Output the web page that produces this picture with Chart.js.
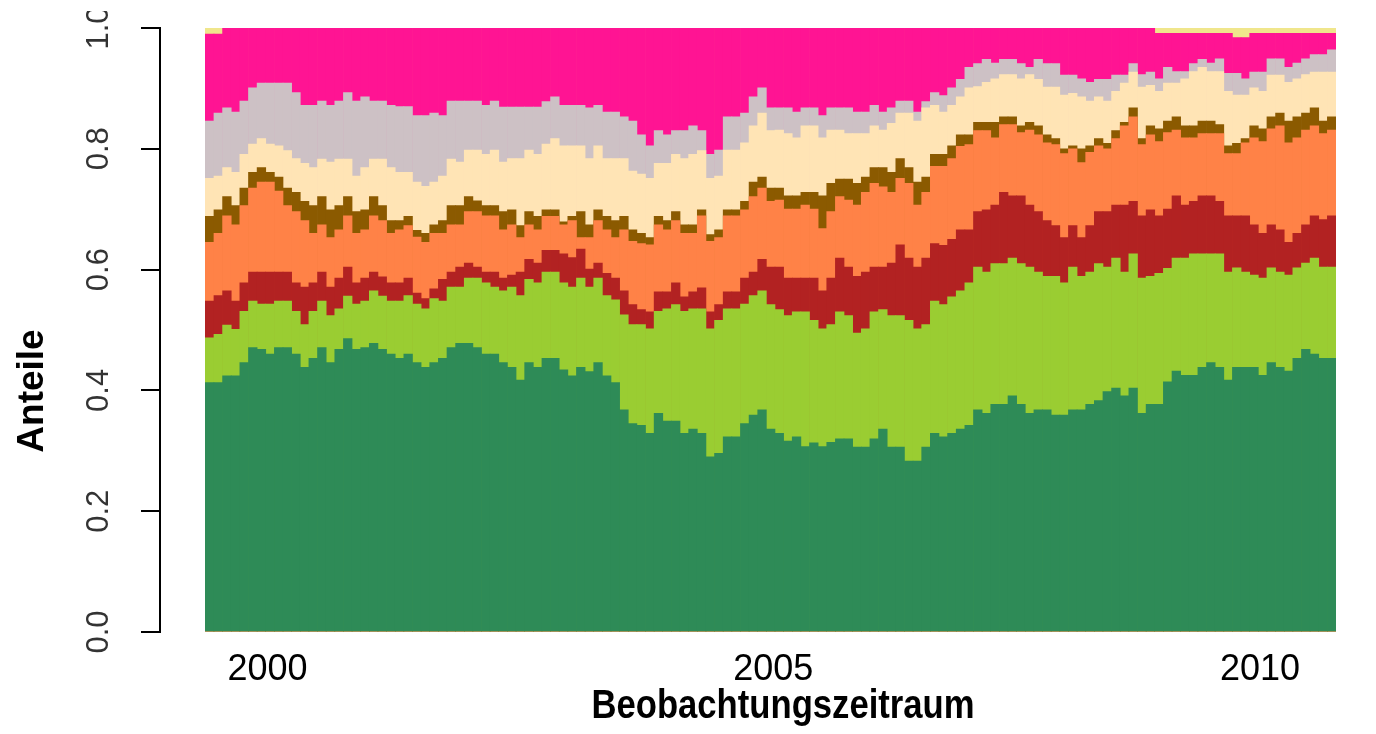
<!DOCTYPE html>
<html>
<head>
<meta charset="utf-8">
<script src="https://cdn.jsdelivr.net/npm/chart.js@4.4.1/dist/chart.umd.min.js"></script>
<style>
  html, body { margin: 0; padding: 0; background: #fff; }
  #wrap { width: 1376px; height: 734px; }
</style>
</head>
<body>
<div id="wrap"><canvas id="chart" width="1376" height="734"></canvas></div>
<script>
// upper edge of each band (cumulative share) per period
const greenTop = [
  0.413,0.413,0.424,0.424,0.446,0.471,0.468,0.460,0.471,0.471,0.460,0.438,0.453,0.471,0.446,0.468,0.486,0.468,0.471,0.478,0.468,0.460,
  0.453,0.460,0.446,0.438,0.446,0.453,0.471,0.478,0.478,0.471,0.460,0.460,0.446,0.438,0.417,0.446,0.438,0.453,0.453,0.434,0.424,0.438,
  0.431,0.446,0.424,0.413,0.368,0.345,0.342,0.329,0.362,0.349,0.349,0.329,0.336,0.329,0.290,0.296,0.323,0.323,0.345,0.359,0.368,0.336,
  0.329,0.316,0.323,0.307,0.313,0.307,0.314,0.320,0.320,0.306,0.306,0.320,0.336,0.306,0.306,0.283,0.283,0.306,0.329,0.323,0.329,0.336,
  0.342,0.368,0.362,0.377,0.377,0.391,0.377,0.362,0.368,0.368,0.359,0.359,0.368,0.368,0.377,0.383,0.398,0.404,0.391,0.404,0.362,0.377,
  0.377,0.414,0.432,0.425,0.425,0.438,0.446,0.438,0.417,0.438,0.438,0.438,0.425,0.446,0.438,0.432,0.453,0.468,0.460,0.453,0.453
];
const limeTop = [
  0.487,0.493,0.508,0.501,0.531,0.548,0.543,0.543,0.548,0.548,0.531,0.509,0.531,0.548,0.524,0.535,0.556,0.543,0.548,0.565,0.556,0.548,
  0.548,0.557,0.543,0.535,0.552,0.548,0.571,0.571,0.586,0.586,0.578,0.571,0.565,0.571,0.557,0.584,0.578,0.596,0.596,0.578,0.571,0.586,
  0.571,0.586,0.557,0.550,0.525,0.509,0.509,0.502,0.531,0.535,0.542,0.531,0.535,0.535,0.502,0.516,0.535,0.535,0.543,0.557,0.565,0.542,
  0.534,0.524,0.530,0.530,0.516,0.502,0.509,0.530,0.524,0.495,0.502,0.530,0.534,0.524,0.524,0.516,0.502,0.509,0.548,0.542,0.555,0.565,
  0.578,0.604,0.596,0.610,0.610,0.619,0.610,0.604,0.596,0.589,0.589,0.578,0.604,0.589,0.596,0.610,0.604,0.619,0.596,0.626,0.586,0.589,
  0.594,0.602,0.619,0.619,0.626,0.626,0.626,0.626,0.596,0.603,0.596,0.591,0.586,0.603,0.596,0.591,0.603,0.611,0.619,0.604,0.604
];
const redTop = [
  0.548,0.557,0.565,0.548,0.578,0.596,0.596,0.596,0.596,0.596,0.578,0.571,0.578,0.596,0.571,0.586,0.604,0.578,0.586,0.596,0.588,0.578,
  0.578,0.586,0.561,0.552,0.568,0.584,0.596,0.604,0.611,0.604,0.596,0.596,0.586,0.591,0.596,0.617,0.611,0.632,0.632,0.626,0.620,0.634,
  0.601,0.611,0.594,0.586,0.565,0.542,0.534,0.530,0.563,0.563,0.578,0.555,0.563,0.570,0.530,0.542,0.563,0.563,0.586,0.596,0.617,0.604,
  0.604,0.586,0.586,0.586,0.586,0.565,0.586,0.619,0.604,0.589,0.596,0.604,0.604,0.611,0.641,0.619,0.604,0.619,0.643,0.640,0.650,0.666,
  0.666,0.696,0.699,0.707,0.728,0.722,0.722,0.707,0.696,0.681,0.673,0.653,0.673,0.653,0.673,0.696,0.696,0.707,0.707,0.713,0.689,0.699,
  0.689,0.700,0.722,0.707,0.713,0.722,0.722,0.713,0.689,0.689,0.689,0.674,0.660,0.674,0.666,0.645,0.660,0.674,0.689,0.683,0.689
];
const orangeTop = [
  0.645,0.660,0.689,0.674,0.706,0.735,0.745,0.745,0.730,0.706,0.696,0.681,0.660,0.674,0.653,0.666,0.689,0.660,0.666,0.689,0.681,0.660,
  0.666,0.673,0.654,0.645,0.660,0.660,0.674,0.674,0.696,0.696,0.689,0.689,0.666,0.674,0.653,0.674,0.666,0.688,0.688,0.674,0.681,0.653,
  0.653,0.681,0.666,0.653,0.666,0.647,0.643,0.641,0.674,0.666,0.681,0.660,0.660,0.689,0.647,0.653,0.689,0.689,0.699,0.721,0.735,0.713,
  0.715,0.700,0.700,0.707,0.700,0.668,0.696,0.721,0.715,0.707,0.728,0.743,0.737,0.728,0.751,0.743,0.707,0.728,0.771,0.771,0.784,0.804,
  0.807,0.830,0.830,0.818,0.840,0.840,0.827,0.831,0.823,0.810,0.807,0.792,0.800,0.777,0.794,0.805,0.800,0.817,0.838,0.853,0.807,0.823,
  0.812,0.827,0.831,0.818,0.818,0.825,0.825,0.825,0.792,0.792,0.810,0.818,0.812,0.833,0.838,0.810,0.818,0.831,0.838,0.825,0.831
];
const brownTop = [
  0.688,0.699,0.721,0.706,0.735,0.761,0.769,0.761,0.753,0.735,0.728,0.713,0.706,0.721,0.699,0.706,0.721,0.696,0.699,0.721,0.706,0.681,
  0.681,0.688,0.665,0.660,0.674,0.681,0.706,0.706,0.721,0.714,0.706,0.706,0.696,0.699,0.673,0.696,0.688,0.699,0.699,0.679,0.688,0.696,
  0.674,0.699,0.688,0.681,0.688,0.666,0.660,0.653,0.688,0.681,0.696,0.674,0.674,0.699,0.658,0.666,0.699,0.699,0.713,0.745,0.753,0.735,
  0.735,0.722,0.722,0.728,0.728,0.722,0.743,0.750,0.750,0.743,0.753,0.769,0.769,0.761,0.784,0.769,0.745,0.753,0.791,0.791,0.805,0.823,
  0.823,0.844,0.844,0.844,0.853,0.853,0.838,0.844,0.838,0.823,0.817,0.800,0.805,0.800,0.805,0.817,0.809,0.830,0.844,0.868,0.817,0.838,
  0.833,0.846,0.853,0.838,0.838,0.846,0.846,0.840,0.805,0.809,0.817,0.838,0.833,0.853,0.859,0.846,0.853,0.859,0.868,0.846,0.853
];
const peachTop = [
  0.751,0.755,0.769,0.761,0.791,0.808,0.817,0.808,0.805,0.797,0.784,0.776,0.769,0.783,0.778,0.783,0.783,0.755,0.769,0.783,0.783,0.769,
  0.761,0.761,0.745,0.738,0.745,0.755,0.783,0.778,0.798,0.798,0.791,0.798,0.778,0.784,0.784,0.798,0.791,0.808,0.817,0.805,0.805,0.805,
  0.784,0.805,0.784,0.784,0.784,0.763,0.758,0.751,0.776,0.776,0.791,0.784,0.791,0.797,0.751,0.755,0.798,0.798,0.810,0.838,0.859,0.830,
  0.831,0.825,0.818,0.838,0.838,0.818,0.831,0.831,0.825,0.825,0.825,0.838,0.831,0.842,0.859,0.859,0.846,0.868,0.872,0.861,0.872,0.886,
  0.901,0.903,0.910,0.916,0.923,0.923,0.916,0.923,0.915,0.902,0.902,0.889,0.892,0.886,0.879,0.886,0.879,0.895,0.909,0.927,0.902,0.905,
  0.895,0.909,0.909,0.916,0.928,0.935,0.928,0.928,0.895,0.889,0.889,0.901,0.895,0.922,0.922,0.910,0.916,0.923,0.927,0.927,0.927
];
const greyTop = [
  0.846,0.859,0.868,0.861,0.879,0.901,0.909,0.909,0.909,0.909,0.893,0.872,0.872,0.879,0.872,0.879,0.893,0.879,0.886,0.879,0.879,0.872,
  0.870,0.870,0.855,0.855,0.859,0.855,0.879,0.879,0.879,0.879,0.872,0.879,0.869,0.869,0.869,0.869,0.869,0.878,0.886,0.872,0.872,0.872,
  0.868,0.872,0.861,0.861,0.853,0.846,0.823,0.805,0.830,0.823,0.830,0.830,0.838,0.830,0.791,0.798,0.853,0.853,0.859,0.886,0.901,0.868,
  0.868,0.868,0.861,0.868,0.868,0.855,0.868,0.868,0.868,0.861,0.861,0.872,0.861,0.868,0.879,0.879,0.861,0.878,0.893,0.888,0.901,0.915,
  0.935,0.941,0.948,0.942,0.948,0.948,0.941,0.935,0.948,0.941,0.941,0.922,0.922,0.916,0.910,0.915,0.915,0.922,0.922,0.941,0.923,0.927,
  0.916,0.935,0.928,0.928,0.941,0.948,0.942,0.949,0.925,0.925,0.916,0.927,0.927,0.949,0.949,0.935,0.942,0.949,0.956,0.956,0.964
];
const pinkTop = [
  0.990,0.990,1,1,1,1,1,1,1,1,1,1,1,1,1,1,1,1,1,1,1,1,
  1,1,1,1,1,1,1,1,1,1,1,1,1,1,1,1,1,1,1,1,1,1,
  1,1,1,1,1,1,1,1,1,1,1,1,1,1,1,1,1,1,1,1,1,1,
  1,1,1,1,1,1,1,1,1,1,1,1,1,1,1,1,1,1,1,1,1,1,
  1,1,1,1,1,1,1,1,1,1,1,1,1,1,1,1,1,1,1,1,1,1,
  0.991,0.991,0.991,0.991,0.991,0.991,0.991,0.991,0.991,0.984,0.984,0.991,0.991,0.991,0.991,0.991,0.991,0.991,0.991,0.991,0.991
];

const yearLabels = ["2000", "2005", "2010"];
const yearAt = [6.7, 65.3, 121.7]; // period index under each year label

const periods = greenTop.map((_, i) => i);
const total = periods.map(() => 1); // shares add up to 1

// bottom band first; lower datasets are painted over the higher ones
const bands = [
  [greenTop, "#2E8B57"],
  [limeTop, "#9ACD32"],
  [redTop, "#B22222"],
  [orangeTop, "#FF8247"],
  [brownTop, "#8B5A00"],
  [peachTop, "#FFE4B5"],
  [greyTop, "#CDC1C5"],
  [pinkTop, "#FF1493"],
  [total, "#F0E68C"]
];

const axisTitles = {
  id: "axisTitles",
  afterDraw(chart) {
    const ctx = chart.ctx;
    const xTitle = "Beobachtungszeitraum";

    // the original picture is cropped just above the "1.0" label
    ctx.save();
    ctx.fillStyle = "#fff";
    ctx.fillRect(0, 0, chart.width, 11);
    ctx.restore();

    ctx.save();
    ctx.fillStyle = "#000";
    ctx.textAlign = "center";
    ctx.textBaseline = "alphabetic";
    ctx.font = "bold 40px 'Liberation Sans', Arial, sans-serif";
    const w = ctx.measureText(xTitle).width;
    ctx.translate(783, 718);
    ctx.scale(383 / w, 1); // narrow face like the original
    ctx.fillText(xTitle, 0, 0);
    ctx.restore();

    ctx.save();
    ctx.fillStyle = "#000";
    ctx.textAlign = "center";
    ctx.textBaseline = "middle";
    ctx.translate(33, 391);
    ctx.rotate(-Math.PI / 2);
    ctx.font = "bold 37px 'Liberation Sans', Arial, sans-serif";
    ctx.fillText("Anteile", 0, 0);
    ctx.restore();
  }
};

new Chart(document.getElementById("chart"), {
  type: "bar",
  data: {
    labels: periods,
    datasets: bands.map(([top, color]) => ({
      data: top,
      backgroundColor: color,
      borderWidth: 0,
      barPercentage: 1,
      categoryPercentage: 1,
      grouped: false
    }))
  },
  options: {
    responsive: false,
    animation: false,
    events: [],
    layout: { padding: { top: 28, right: 40, left: 0, bottom: 0 } },
    plugins: { legend: { display: false }, tooltip: { enabled: false } },
    scales: {
      x: {
        type: "linear",
        min: -5.752,
        max: 130.5,
        offset: false,
        grid: { display: false, drawTicks: false, offset: false },
        border: { display: false },
        afterBuildTicks: s => { s.ticks = yearAt.map(v => ({ value: v })); },
        afterFit: s => { s.height = 102; },
        ticks: {
          autoSkip: false,
          maxRotation: 0,
          padding: 16,
          color: "#000",
          font: { family: "'Liberation Sans', Arial, sans-serif", size: 36 },
          callback: (v, i) => yearLabels[i]
        }
      },
      y: {
        min: 0,
        max: 1,
        afterFit: s => { s.width = 160; s.paddingTop = 0; s.paddingBottom = 0; },
        grid: { drawOnChartArea: false, drawTicks: true, tickLength: 19, color: "#000", lineWidth: 2 },
        border: { display: true, color: "#000", width: 2 },
        ticks: {
          stepSize: 0.2,
          minRotation: 90,
          maxRotation: 90,
          crossAlign: "center",
          padding: 20,
          color: "#333",
          font: { family: "'Liberation Sans', Arial, sans-serif", size: 31 },
          callback: v => v.toFixed(1)
        }
      }
    }
  },
  plugins: [axisTitles]
});
</script>
</body>
</html>
